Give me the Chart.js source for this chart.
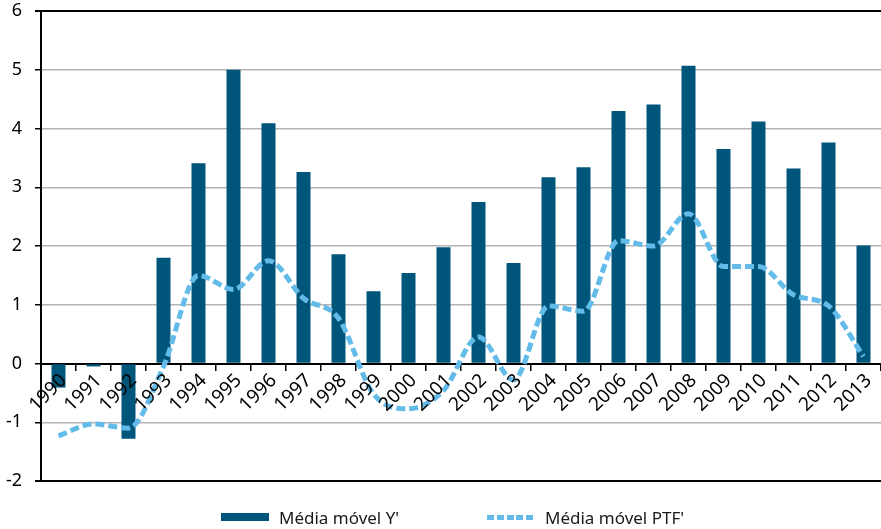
<!DOCTYPE html>
<html>
<head>
<meta charset="utf-8">
<script src="https://cdn.jsdelivr.net/npm/chart.js@4.4.0/dist/chart.umd.min.js"></script>
<style>
  body { margin: 0; background: #fff; }
  #wrap { position: relative; width: 881px; height: 529px; }
  #legenda {
    position: absolute; left: 0; top: 505px; width: 881px; height: 24px;
    font-family: "Noto Sans", sans-serif; font-size: 17px; color: #1a1a1a;
  }
  .item { position: absolute; top: 0; display: flex; align-items: center; height: 24px; }
  .caixa { width: 48px; height: 8px; background: #00557a; margin-right: 10px; }
  .tracejado {
    width: 46px; height: 5px; margin-right: 12px;
    background: repeating-linear-gradient(90deg, #63bbe9 0 7px, transparent 7px 9.8px);
  }
</style>
</head>
<body>
<div id="wrap">
  <canvas id="grafico"></canvas>
  <div id="legenda">
    <div class="item" style="left:221px"><div class="caixa"></div>Média móvel Y'</div>
    <div class="item" style="left:487px"><div class="tracejado"></div>Média móvel PTF'</div>
  </div>
</div>
<script>
// anos do eixo X
const anos = ["1990", "1991", "1992", "1993", "1994", "1995", "1996", "1997", "1998", "1999", "2000", "2001",
  "2002", "2003", "2004", "2005", "2006", "2007", "2008", "2009", "2010", "2011", "2012", "2013"];

// Média móvel Y' (barras)
const mediaY = [-0.41, -0.05, -1.28, 1.8, 3.41, 5.0, 4.09, 3.26, 1.86, 1.23, 1.54, 1.98,
  2.75, 1.71, 3.17, 3.34, 4.3, 4.41, 5.07, 3.65, 4.12, 3.32, 3.76, 2.01];

// Média móvel PTF' (linha tracejada)
const mediaPTF = [-1.23, -1.03, -1.1, -0.05, 1.5, 1.26, 1.75, 1.11, 0.77, -0.52, -0.77, -0.46,
  0.45, -0.28, 0.98, 0.89, 2.09, 2.0, 2.55, 1.65, 1.65, 1.17, 0.98, 0.12];

const corBarra = "#00557a";
const corLinha = "#63bbe9";
const fonte = "'Noto Sans', sans-serif";

new Chart(document.getElementById("grafico"), {
  type: "bar",
  data: {
    labels: anos,
    datasets: [
      {
        type: "line",
        label: "Média móvel PTF'",
        data: mediaPTF,
        borderColor: corLinha,
        borderWidth: 5,
        borderDash: [9, 4],
        pointRadius: 0,
        cubicInterpolationMode: "monotone",
        fill: false,
        order: 0,
      },
      {
        label: "Média móvel Y'",
        data: mediaY,
        backgroundColor: corBarra,
        barPercentage: 0.4,
        categoryPercentage: 1,
        order: 1,
      },
    ],
  },
  options: {
    responsive: true,
    maintainAspectRatio: false,
    animation: false,
    layout: { padding: { top: 11, right: 0, bottom: 48, left: 0 } },
    plugins: {
      legend: { display: false },
      tooltip: { enabled: false },
    },
    scales: {
      x: {
        position: { y: 0 },
        offset: true,
        grid: { drawOnChartArea: false, color: "#000", tickLength: 6, lineWidth: 1.5 },
        border: { color: "#000", width: 2 },
        ticks: {
          z: 1, //rótulos por cima das barras
          color: "#000",
          font: { family: fonte, size: 19 },
          autoSkip: false,
          minRotation: 45,
          maxRotation: 45,
          labelOffset: 5,
          padding: 0,
        },
      },
      y: {
        min: -2,
        max: 6,
        ticks: {
          stepSize: 1,
          color: "#000",
          padding: 13,
          font: { family: fonte, size: 18 },
        },
        grid: {
          tickLength: 6,
          tickColor: "#000",
          //linhas das pontas em preto, o resto cinza
          color: (ctx) => (ctx.tick && [6, 0, -2].includes(ctx.tick.value) ? "#000" : "#b4b4b4"),
          lineWidth: (ctx) => (ctx.tick && [6, -2].includes(ctx.tick.value) ? 2 : 1.5),
        },
        border: { color: "#000", width: 2 },
        //largura fixa do eixo e sem folga em cima/embaixo
        afterFit: (scale) => {
          scale.width = 41;
          scale.paddingTop = 0;
          scale.paddingBottom = 0;
        },
      },
    },
  },
});
</script>
</body>
</html>
